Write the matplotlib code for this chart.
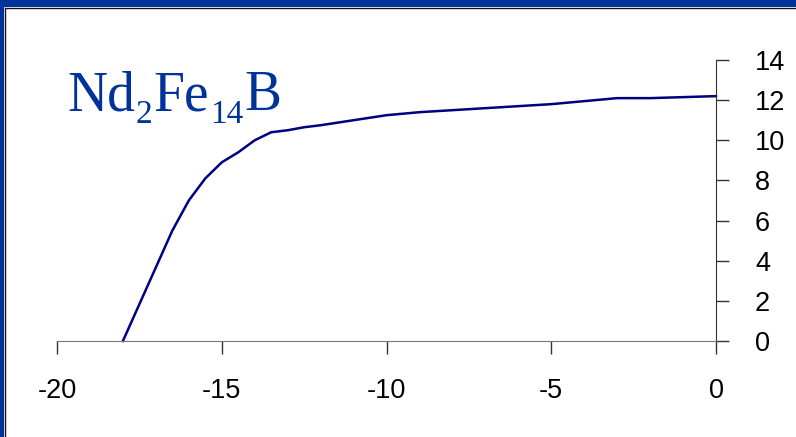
import matplotlib

matplotlib.use("Agg")
import matplotlib.pyplot as plt
from matplotlib.patches import Rectangle

plt.rcParams["axes.unicode_minus"] = False

# field (x) and magnetisation-like curve (y)
field = [-18, -16.5, -16, -15.5, -15, -14.5, -14, -13.5, -13, -12.5, -12, -11,
         -10, -9, -8, -7, -6, -5, -4, -3, -2, -1, 0]
value = [0, 5.5, 7.0, 8.1, 8.9, 9.4, 10.0, 10.4, 10.5, 10.65, 10.75, 11.0,
         11.25, 11.4, 11.5, 11.6, 11.7, 11.8, 11.95, 12.1, 12.1, 12.15, 12.2]
x_ticks = [-20, -15, -10, -5, 0]
y_ticks = [0, 2, 4, 6, 8, 10, 12, 14]
# formula pieces: (text, is_subscript)
formula = [("Nd", False), ("2", True), ("Fe", False), ("14", True), ("B", False)]

fig = plt.figure(figsize=(7.96, 4.37), dpi=100)
W, H = 796, 437

# slide-style border on top and left
fig.patches.append(Rectangle((0, 1 - 7 / H), 1, 7 / H, transform=fig.transFigure,
                             facecolor="#003399", edgecolor="none"))
fig.patches.append(Rectangle((0, 0), 4 / W, 1, transform=fig.transFigure,
                             facecolor="#003399", edgecolor="none"))
fig.lines.append(plt.Line2D([4.5 / W, 1], [1 - 7.5 / H, 1 - 7.5 / H],
                            transform=fig.transFigure, color="#111111", lw=1))
fig.lines.append(plt.Line2D([4.5 / W, 4.5 / W], [0, 1 - 7.5 / H],
                            transform=fig.transFigure, color="#111111", lw=1))

ax = fig.add_axes([57 / W, 1 - 341 / H, (716 - 57) / W, (341 - 60) / H])
ax.plot(field, value, color="#000080", lw=1.8, clip_on=False)
ax.set_xlim(-20, 0)
ax.set_ylim(0, 14)

ax.spines["top"].set_visible(False)
ax.spines["left"].set_visible(False)
ax.spines["bottom"].set_color("#777777")
ax.spines["right"].set_color("#333333")
ax.yaxis.tick_right()
ax.set_xticks(x_ticks)
ax.set_yticks(y_ticks)
ax.tick_params(axis="x", direction="out", length=9, width=1, colors="#333333",
               pad=18, labelsize=19.5, labelcolor="black")
ax.tick_params(axis="y", direction="out", length=9, width=1, colors="#333333",
               pad=19, labelsize=19.5, labelcolor="black")
for lbl in ax.get_xticklabels() + ax.get_yticklabels():
    lbl.set_family("Liberation Sans")

# chemical formula, laid out piece by piece so subscripts drop like the slide
renderer = fig.canvas.get_renderer()
x_px = 67
for piece, sub in formula:
    y_px = 123 if sub else 110
    t = fig.text(x_px / W, 1 - y_px / H, piece, family="Liberation Serif",
                 fontsize=24 if sub else 40, color="#003399", va="baseline")
    x_px += t.get_window_extent(renderer).width + 1

fig.savefig("out.png", dpi=100)
